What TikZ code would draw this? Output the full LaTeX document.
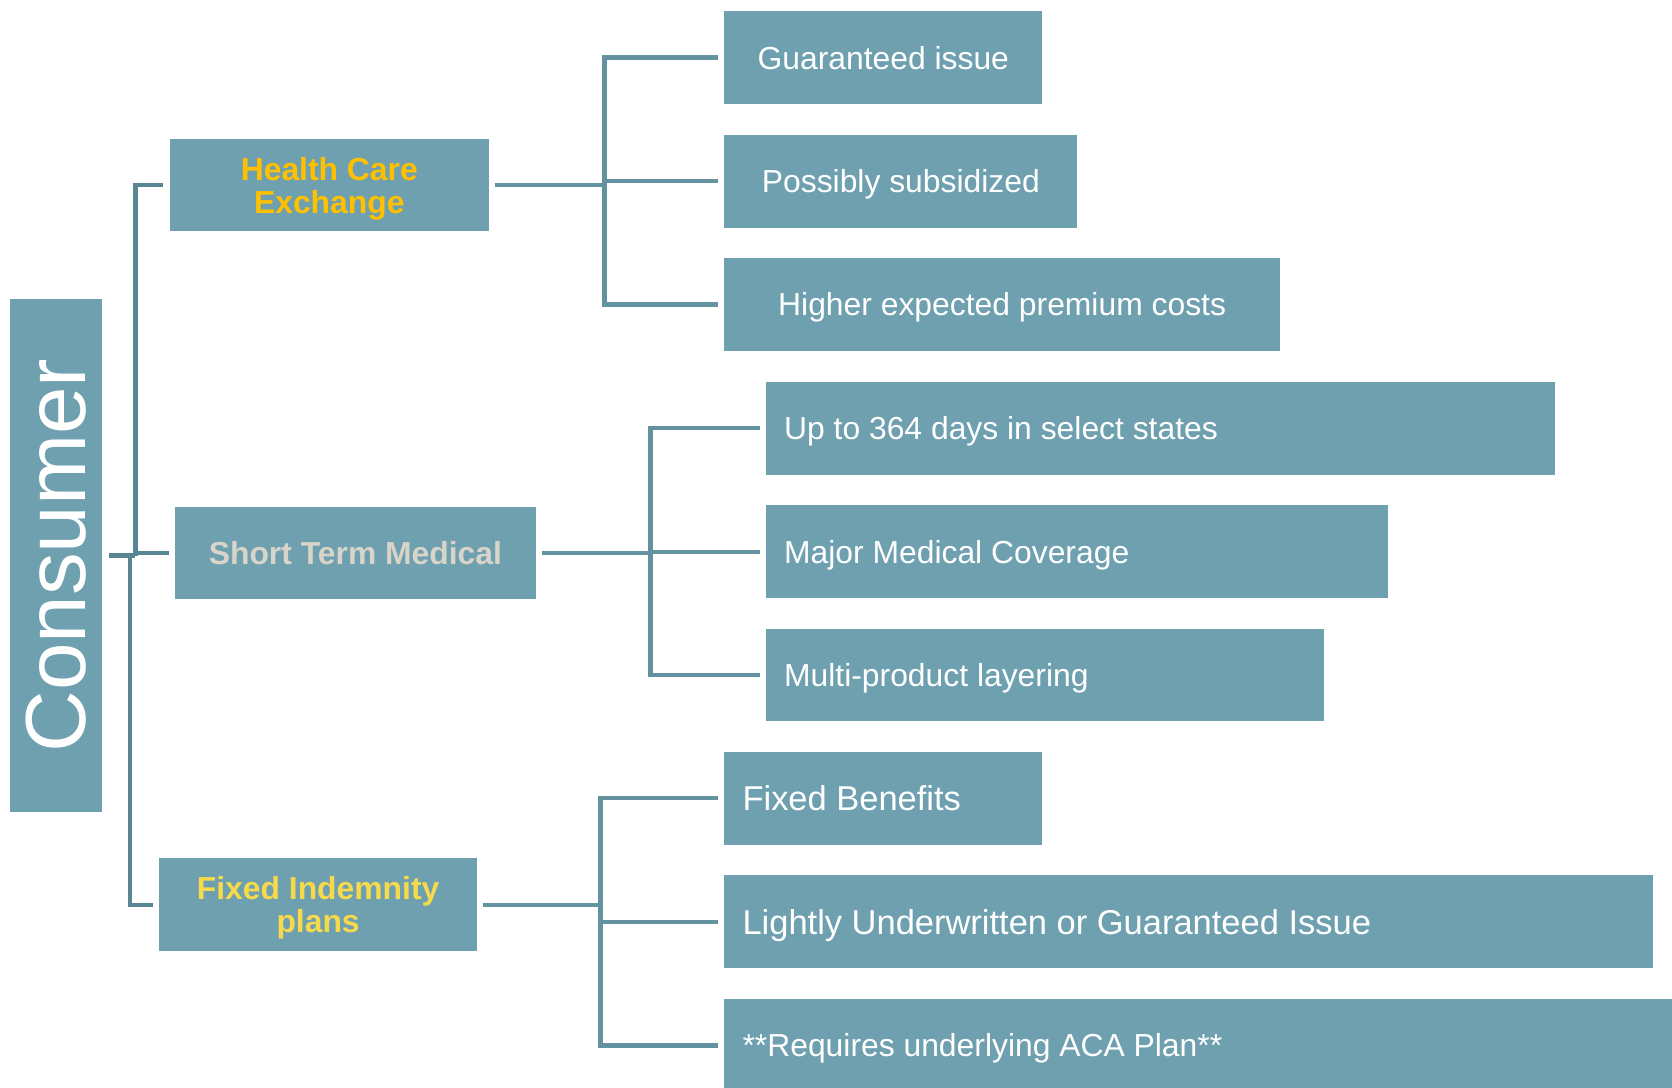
\documentclass[tikz,border=0pt]{standalone}
\usepackage{fontspec}
\setmainfont{Liberation Sans}
\usetikzlibrary{positioning,calc}
\definecolor{boxC}{RGB}{111,160,176}
\definecolor{lineC}{RGB}{99,147,161}
\definecolor{trunkC}{RGB}{89,134,146}
\definecolor{hceC}{RGB}{255,192,0}
\definecolor{stmC}{RGB}{216,212,200}
\definecolor{fipC}{RGB}{247,218,76}

\begin{document}
\begin{tikzpicture}[x=0.02cm, y=-0.02cm]
\tikzset{
    %styl pudelka
    box/.style={
           rectangle, fill=boxC, anchor=west,
           inner sep=0pt,
           minimum height=1.74cm,
           text=white,
           font=\fontsize{17}{20}\selectfont},
    head/.style={box, align=center, text depth=0pt, font=\bfseries\fontsize{17}{17.6}\selectfont},
    item/.style={box, minimum width=#1, text height=12.2pt, text depth=0pt},
    leftitem/.style={box, inner xsep=0.34cm, text width=#1, align=flush left,
           text height=12.2pt, text depth=0pt},
    big/.style={font=\fontsize{18.4}{22}\selectfont, text height=13.2pt},
    %linie
    conn/.style={draw=lineC, line width=2.3pt},
    trunk/.style={conn, draw=trunkC}
}
\useasboundingbox (0,0) rectangle (1568,1020);

%Consumer
\node[box, anchor=center, rotate=90, minimum width=9.64cm, minimum height=1.74cm,
      font=\fontsize{45.6}{50}\selectfont] (cons) at (52.5,521) {Consumer};

%Poziom 1
\node[head, minimum width=5.98cm, text=hceC] (hce) at (159,173.5) {Health Care\\Exchange};
\node[head, minimum width=6.76cm, text=stmC] (stm) at (164,518.5) {Short Term Medical};
\node[head, minimum width=5.96cm, text=fipC] (fip) at (149,848.5) {Fixed Indemnity\\plans};

%Poziom 2
\node[item=5.96cm]  (gi) at (679,54)    {Guaranteed issue};
\node[item=6.62cm]  (ps) at (679,170)   {Possibly subsidized};
\node[item=10.42cm] (hp) at (679,285.5) {Higher expected premium costs};

\node[leftitem=14.12cm] (up) at (718,401.5) {Up to 364 days in select states};
\node[leftitem=10.98cm] (mm) at (718,517.5) {Major Medical Coverage};
\node[leftitem=9.78cm]  (mp) at (718,633)   {Multi-product layering};

\node[leftitem=5.28cm,  big] (fb) at (679,748.5) {Fixed Benefits};
\node[leftitem=16.74cm, big] (lu) at (679,864.5) {Lightly Underwritten or Guaranteed Issue};
\node[leftitem=17.74cm] (rq) at (679,980.5) {**Requires underlying ACA Plan**};

%Wezly linii
\coordinate (jtop) at (127,521);
\coordinate (jbot) at (122,521);
\coordinate (bhce) at (567,173.5);
\coordinate (bstm) at (610,518.5);
\coordinate (bfip) at (563,848.5);

%Linie
\draw[trunk, shorten <=3.4pt] (cons.south) -- (jtop);
\draw[trunk, shorten >=3.4pt] (jtop) |- (hce.west);
\draw[trunk, shorten >=3.4pt] (jtop) |- (stm.west);
\draw[trunk, shorten >=3.4pt] (jbot) |- (fip.west);

\draw[conn, shorten <=3pt] (hce.east) -- (bhce);
\draw[conn, shorten >=3pt] (bhce) |- (gi.west);
\draw[conn, shorten >=3pt] (bhce) |- (ps.west);
\draw[conn, shorten >=3pt] (bhce) |- (hp.west);

\draw[conn, shorten <=3pt] (stm.east) -- (bstm);
\draw[conn, shorten >=3pt] (bstm) |- (up.west);
\draw[conn, shorten >=3pt] (bstm) |- (mm.west);
\draw[conn, shorten >=3pt] (bstm) |- (mp.west);

\draw[conn, shorten <=3pt] (fip.east) -- (bfip);
\draw[conn, shorten >=3pt] (bfip) |- (fb.west);
\draw[conn, shorten >=3pt] (bfip) |- (lu.west);
\draw[conn, shorten >=3pt] (bfip) |- (rq.west);
\end{tikzpicture}
\end{document}
